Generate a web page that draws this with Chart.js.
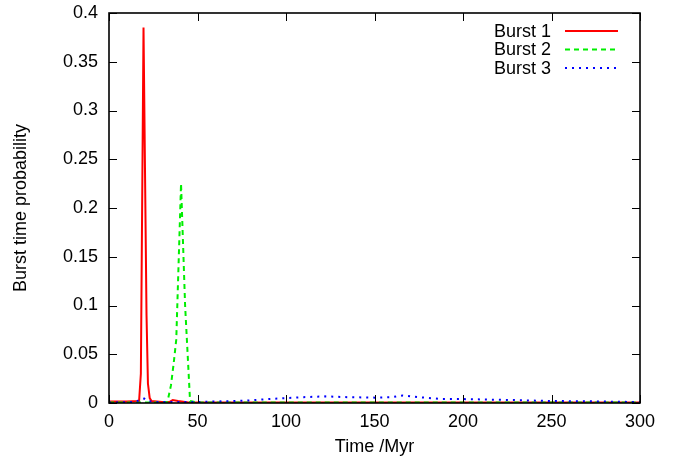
<!DOCTYPE html>
<html lang="en">
<head>
<meta charset="UTF-8">
<title>Burst time probability</title>
<script src="https://cdn.jsdelivr.net/npm/chart.js"></script>
<style>
  html, body { margin: 0; padding: 0; background: #fff; }
  #wrap { width: 678px; height: 458px; }
</style>
</head>
<body>
<div id="wrap"><canvas id="chart" width="678" height="458"></canvas></div>
<script>
// data (time in Myr, probability)
const burst1Time = [0, 10, 17, 18, 19.5, 21.2, 22, 23, 24, 30, 34, 36, 39, 45, 100, 200, 300];
const burst1Prob = [0.0015, 0.0015, 0.002, 0.03, 0.385, 0.09, 0.02, 0.005, 0.002, 0.001, 0.001, 0.003, 0.002, 0.0005, 0.0005, 0.0005, 0.0005];

const burst2Time = [0, 30, 33, 35, 36.5, 38, 40.7, 43, 45.8, 50, 300];
const burst2Prob = [0.0005, 0.0005, 0.001, 0.018, 0.04, 0.065, 0.225, 0.1, 0.002, 0.0005, 0.0005];

const burst3Time = [0, 15, 18, 20, 22, 27, 50, 60, 78, 90, 100, 110, 122, 135, 150, 160, 166, 175, 188, 200, 215, 230, 249, 270, 297, 300];
const burst3Prob = [0.0005, 0.001, 0.004, 0.0045, 0.002, 0.001, 0.001, 0.0015, 0.0025, 0.004, 0.005, 0.006, 0.0068, 0.006, 0.0055, 0.006, 0.0078, 0.006, 0.004, 0.004, 0.0035, 0.003, 0.002, 0.0018, 0.001, 0.001];

const xTicks = [0, 50, 100, 150, 200, 250, 300];
const yTicks = [0, 0.05, 0.1, 0.15, 0.2, 0.25, 0.3, 0.35, 0.4];

const FONT = 'Liberation Sans, Arial, Helvetica, sans-serif';
const FSIZE = 18;

function pts(t, v) {
    return t.map((x, i) => ({ x: x, y: v[i] }));
}

// gnuplot style frame with inward ticks on all four sides
const framePlugin = {
    id: 'frame',
    afterDraw(chart) {
        const ctx = chart.ctx;
        const a = chart.chartArea;
        const xs = chart.scales.x, ys = chart.scales.y;
        ctx.save();
        ctx.strokeStyle = '#000';
        ctx.lineWidth = 1;
        ctx.beginPath();
        xTicks.forEach(v => {
            const px = Math.round(xs.getPixelForValue(v)) + 0.5;
            ctx.moveTo(px, a.bottom); ctx.lineTo(px, a.bottom - 8);
            ctx.moveTo(px, a.top); ctx.lineTo(px, a.top + 8);
        });
        yTicks.forEach(v => {
            const py = Math.round(ys.getPixelForValue(v)) + 0.5;
            ctx.moveTo(a.left, py); ctx.lineTo(a.left + 8, py);
            ctx.moveTo(a.right, py); ctx.lineTo(a.right - 8, py);
        });
        ctx.stroke();
        ctx.lineWidth = 1.6;
        ctx.strokeRect(a.left, a.top, a.right - a.left, a.bottom - a.top);

        // legend, text right-aligned with a line sample after it
        ctx.font = FSIZE + 'px ' + FONT;
        ctx.textAlign = 'right';
        ctx.textBaseline = 'middle';
        chart.data.datasets.forEach((ds, i) => {
            const y = 31 + i * 18.5;
            ctx.fillStyle = '#000';
            ctx.fillText(ds.label, 551, y + 1);
            ctx.strokeStyle = ds.borderColor;
            ctx.lineWidth = ds.borderWidth;
            ctx.setLineDash(ds.borderDash || []);
            ctx.beginPath();
            ctx.moveTo(565, y);
            ctx.lineTo(618, y);
            ctx.stroke();
        });
        ctx.restore();
    }
};

new Chart(document.getElementById('chart'), {
    type: 'line',
    data: {
        datasets: [
            { label: 'Burst 1', data: pts(burst1Time, burst1Prob), borderColor: '#ff0000', borderWidth: 2, order: 3 },
            { label: 'Burst 2', data: pts(burst2Time, burst2Prob), borderColor: '#00ee00', borderWidth: 2, borderDash: [5, 4], order: 2 },
            { label: 'Burst 3', data: pts(burst3Time, burst3Prob), borderColor: '#0000ff', borderWidth: 2, borderDash: [2, 5], order: 1 }
        ]
    },
    options: {
        responsive: false,
        animation: false,
        elements: { point: { radius: 0 }, line: { tension: 0, fill: false } },
        layout: { padding: { left: 0, top: 13, right: 38, bottom: 0 } },
        plugins: { legend: { display: false }, tooltip: { enabled: false } },
        scales: {
            x: {
                type: 'linear',
                min: 0, max: 300,
                afterFit(s) { s.height = 55; },
                afterBuildTicks(s) { s.ticks = xTicks.map(v => ({ value: v })); },
                grid: { display: false, drawTicks: false },
                border: { display: false },
                ticks: { color: '#000', font: { family: FONT, size: FSIZE, lineHeight: 1 }, padding: 10, maxRotation: 0 },
                title: { display: true, text: 'Time /Myr', color: '#000', font: { family: FONT, size: FSIZE, lineHeight: 1.2 }, padding: { top: 0, bottom: 0 } }
            },
            y: {
                min: 0, max: 0.4,
                afterFit(s) { s.width = 109; s.paddingTop = 0; s.paddingBottom = 0; },
                afterBuildTicks(s) { s.ticks = yTicks.map(v => ({ value: v })); },
                grid: { display: false, drawTicks: false },
                border: { display: false },
                ticks: { color: '#000', font: { family: FONT, size: FSIZE }, padding: 11, callback: v => String(v) },
                title: { display: true, text: 'Burst time probability', color: '#000', font: { family: FONT, size: FSIZE }, padding: { top: 10, bottom: 0 } }
            }
        }
    },
    plugins: [framePlugin]
});
</script>
</body>
</html>
